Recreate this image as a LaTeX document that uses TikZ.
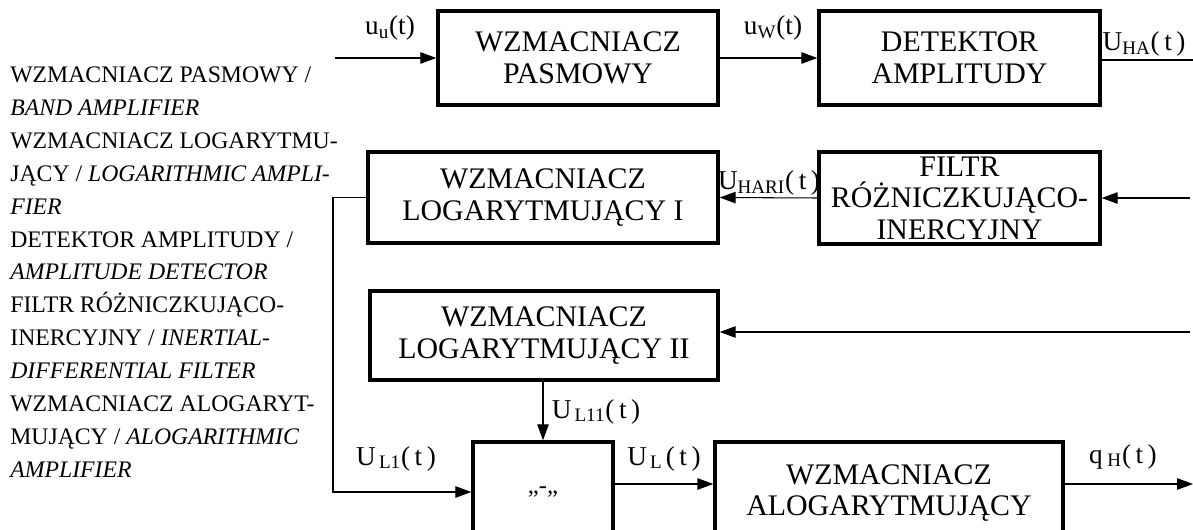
\documentclass[tikz,border=0pt]{standalone}
\usepackage{fontspec}
\setmainfont{Liberation Serif}
\usepackage{tikz}
\usetikzlibrary{calc}
\usetikzlibrary{positioning}
\usetikzlibrary{arrows.meta}

\tikzset{
    blok/.style={draw, line width=2pt, align=center, inner sep=0pt, font=\fontsize{17}{18}\selectfont},
    sig/.style={line width=0.6pt},
    strz/.style={sig, -{Triangle[length=9pt, width=6.5pt]}},
    etyk/.style={font=\fontsize{15.5}{17}\selectfont, inner sep=0pt, anchor=base}
}

\begin{document}
\begin{tikzpicture}[x=0.02cm, y=-0.02cm]
    \useasboundingbox (0,0) rectangle (1193,530);
    \clip (0,0) rectangle (1193,530);

    % bloki
    \node[blok, minimum width=5.6cm, minimum height=1.88cm] (pasm) at (578, 58) {WZMACNIACZ\\PASMOWY};
    \node[blok, minimum width=5.62cm, minimum height=1.88cm] (det) at (959.5, 58) {DETEKTOR\\AMPLITUDY};
    \node[blok, minimum width=7cm, minimum height=1.82cm] (logI) at (543, 197.5) {WZMACNIACZ\\LOGARYTMUJĄCY I};
    \node[blok, minimum width=5.62cm, minimum height=1.84cm] (filtr) at (959.5, 198) {FILTR\\RÓŻNICZKUJĄCO-\\INERCYJNY};
    \node[blok, minimum width=6.96cm, minimum height=1.78cm] (logII) at (544, 335.5) {WZMACNIACZ\\LOGARYTMUJĄCY II};
    \node[blok, minimum width=2.8cm, minimum height=2cm, font=\fontsize{14}{16}\selectfont] (minus) at (543, 492) {„-„};
    \node[blok, minimum width=6.96cm, minimum height=2.04cm] (alog) at (889, 493) {WZMACNIACZ\\ALOGARYTMUJĄCY};

    % legenda
    \node[anchor=base west, align=left, inner sep=0pt, font=\fontsize{13.5}{18.7}\selectfont] (leg) at (10, 477) {%
        WZMACNIACZ PASMOWY /\\
        \textit{BAND AMPLIFIER}\\
        WZMACNIACZ LOGARYTMU-\\
        JĄCY / \textit{LOGARITHMIC AMPLI-}\\
        \textit{FIER}\\
        DETEKTOR AMPLITUDY /\\
        \textit{AMPLITUDE DETECTOR}\\
        FILTR RÓŻNICZKUJĄCO-\\
        INERCYJNY / \textit{INERTIAL-}\\
        \textit{DIFFERENTIAL FILTER}\\
        WZMACNIACZ ALOGARYT-\\
        MUJĄCY / \textit{ALOGARITHMIC}\\
        \textit{AMPLIFIER}};

    % etykiety sygnalow
    \node[etyk] (lu) at (390, 35) {u\textsubscript{u}(t)};
    \node[etyk] (lw) at (773, 35) {u\textsubscript{W}(t)};
    \node[etyk] (lha) at (1144, 51) {U\textsubscript{HA}(\,t\,)};
    \node[etyk] (lhari) at (769, 190) {U\textsubscript{HARI}(\,t\,)};
    \node[etyk] (lII) at (596, 418) {U\textsubscript{\,L11}(\,t\,)};
    \node[etyk] (lI) at (396, 465) {U\textsubscript{\,L1}(\,t\,)};
    \node[etyk] (lL) at (664, 465) {U\textsubscript{\,L\,}(\,t\,)};
    \node[etyk] (lq) at (1123, 463) {q\,\textsubscript{H}(\,t\,)};

    % punkty
    \coordinate (we) at (335, 58);
    \coordinate (wyHA) at (1193, 60);
    \coordinate (weF) at (1190, 198);
    \coordinate (weII) at (1190, 332);
    \coordinate (zL) at (333, 0);
    \coordinate (yL) at (0, 484);
    \coordinate (wyq) at (1193, 484);

    % polaczenia
    \draw[strz] (we) -- (pasm.west);
    \draw[strz] (pasm.east) -- (det.west);
    \draw[sig] (det.east |- wyHA) -- (wyHA);
    \draw[strz] (weF) -- (filtr.east);
    \draw[strz] (filtr.west) -- (logI.east);
    \draw[strz] (logI.west) -- (logI.west -| zL) |- (minus.west);
    \draw[strz] (weII) -- (logII.east |- weII);
    \draw[strz] (logII.south -| minus.north) -- (minus.north);
    \draw[strz] (minus.east |- yL) -- (alog.west |- yL);
    \draw[strz] (alog.east |- wyq) -- (wyq);
\end{tikzpicture}
\end{document}
